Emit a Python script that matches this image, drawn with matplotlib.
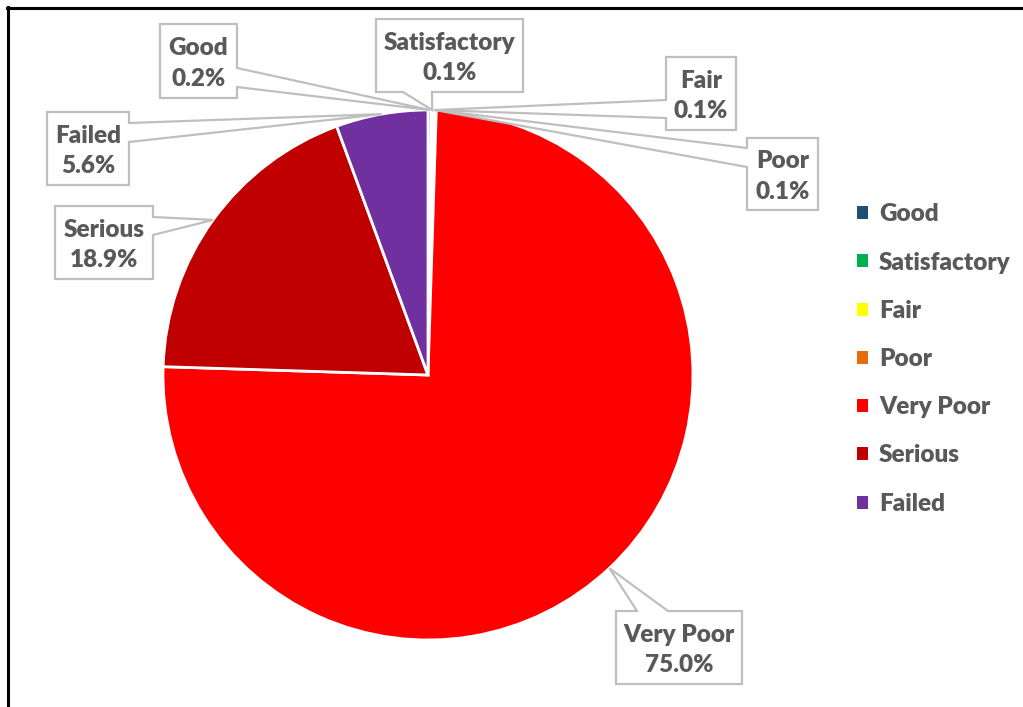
import numpy as np
import matplotlib
matplotlib.use('Agg')
import matplotlib.pyplot as plt
from matplotlib.patches import Polygon, Patch
from matplotlib.lines import Line2D

# condition ratings and their share of structures (%)
categories = ['Good', 'Satisfactory', 'Fair', 'Poor', 'Very Poor', 'Serious', 'Failed']
shares = [0.2, 0.1, 0.1, 0.1, 75.0, 18.9, 5.6]
colors = ['#1F4E79', '#00B050', '#FFFF00', '#E46C0A', '#FF0000', '#C00000', '#7030A0']

W, H = 1023, 707
CX, CY, R = 428, 375, 265          # pie centre / radius in pixels (top-left origin)
TXT = '#595959'
BOX = '#BFBFBF'
FAMILY = ['Lato', 'DejaVu Sans']
FONT = dict(family=FAMILY, fontweight='heavy', fontsize=17.5, color=TXT)

# label boxes: (left, top, right, bottom), side of the pointer, pointer base span
boxes = {
    'Good':         ((160, 24, 237, 98), 'right', (68, 87)),
    'Satisfactory': ((376, 19, 523, 92), 'bottom', (403, 432)),
    'Fair':         ((666, 57, 736, 130), 'left', (100, 118)),
    'Poor':         ((747, 138, 818, 210), 'left', (148, 167)),
    'Very Poor':    ((616, 611, 742, 684), 'top', (637, 668)),
    'Serious':      ((55, 206, 153, 279), 'right', (217, 235)),
    'Failed':       ((47, 112, 129, 185), 'right', (123, 142)),
}


def Y(y):
    return H - y


fig = plt.figure(figsize=(W / 100, H / 100), dpi=100)
ax = fig.add_axes([0, 0, 1, 1])

wedges, _ = ax.pie(shares, colors=colors, startangle=90, counterclock=False,
                   center=(CX, Y(CY)), radius=R,
                   wedgeprops=dict(edgecolor='white', linewidth=2))
ax.set_xlim(0, W)
ax.set_ylim(0, H)
ax.set_aspect('equal')
ax.axis('off')

# callouts point at the middle of each wedge's outer edge
total = sum(shares)
start = 0.0
for name, val in zip(categories, shares):
    mid = np.radians((start + val / 2) / total * 360)
    start += val
    ax_x = CX + R * np.sin(mid)
    ax_y = CY - R * np.cos(mid)
    (l, t, r, b), side, (p1, p2) = boxes[name]
    tip = (ax_x, Y(ax_y))
    if side == 'right':
        pts = [(l, t), (r, t), (r, p1), None, (r, p2), (r, b), (l, b)]
    elif side == 'left':
        pts = [(l, t), (r, t), (r, b), (l, b), (l, p2), None, (l, p1)]
    elif side == 'bottom':
        pts = [(l, t), (r, t), (r, b), (p2, b), None, (p1, b), (l, b)]
    else:
        pts = [(l, t), (p1, t), None, (p2, t), (r, t), (r, b), (l, b)]
    verts = [tip if p is None else (p[0], Y(p[1])) for p in pts]
    ax.add_patch(Polygon(verts, closed=True, facecolor='white', edgecolor=BOX,
                         linewidth=1.6, zorder=3))
    ax.text((l + r) / 2, Y((t + b) / 2 + 2.5), f'{name}\n{val:.1f}%', ha='center',
            va='center', linespacing=1.45, zorder=4, **FONT)

handles = [Patch(facecolor=c, edgecolor='none') for c in colors]
leg = fig.legend(handles, categories, loc='center left',
                 bbox_to_anchor=(857 / W, 1 - 359 / H), frameon=False,
                 handlelength=0.45, handleheight=0.45, handletextpad=0.45,
                 labelspacing=1.08, borderpad=0, borderaxespad=0,
                 prop=dict(family=FAMILY, weight='heavy', size=17.5))
for t in leg.get_texts():
    t.set_color(TXT)

# outer frame (top and left edges)
fig.add_artist(Line2D([7 / W, 1], [1 - 7.5 / H] * 2, color='black', linewidth=2.2))
fig.add_artist(Line2D([7.5 / W] * 2, [0, 1 - 7 / H], color='black', linewidth=2.2))

fig.savefig('out.png', dpi=100, facecolor='white')
